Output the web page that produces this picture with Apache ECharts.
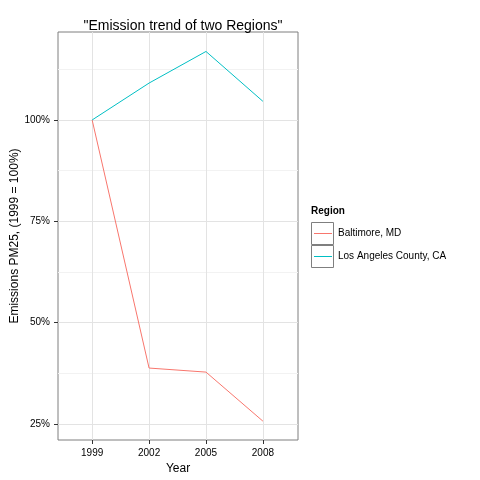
<!DOCTYPE html>
<html><head><meta charset="utf-8">
<script src="https://cdn.jsdelivr.net/npm/echarts@6/dist/echarts.min.js"></script>
<style>html,body{margin:0;background:#fff}#c{width:480px;height:480px}</style>
</head><body><div id="c"></div>
<script>
var years = [1999, 2002, 2005, 2008];
var baltimore = [100, 38.8, 37.8, 25.7];
var losAngeles = [100, 109.1, 116.9, 104.6];
var yMajor = [25, 50, 75, 100];
var yMinor = [37.5, 62.5, 87.5, 112.5];
var regions = ['Baltimore, MD', 'Los Angeles County, CA'];
var colors = ['#f8766d', '#00bfc4'];

var chart = echarts.init(document.getElementById('c'));
function pairs(vals) { return years.map(function (y, i) { return [y, vals[i]]; }); }
function hLines(vals, color) {
  return vals.map(function (v) { return { yAxis: v, lineStyle: { color: color, width: 1, type: 'solid' } }; });
}
var legendGraphics = [{ type: 'text', left: 311, top: 206, style: { text: 'Region', font: 'bold 10px Liberation Sans, Arial', fill: '#000' } }];
regions.forEach(function (r, i) {
  var y = 222 + i * 23;
  legendGraphics.push(
    { type: 'rect', shape: { x: 311.5, y: y + 0.5, width: 22, height: 22 }, style: { fill: '#fff', stroke: '#7f7f7f', lineWidth: 1 } },
    { type: 'line', shape: { x1: 314, y1: y + 11.5, x2: 332, y2: y + 11.5 }, style: { stroke: colors[i], lineWidth: 1 } },
    { type: 'text', left: 338, top: y + 6, style: { text: r, font: '10px Liberation Sans, Arial', fill: '#000' } }
  );
});
chart.setOption({
  animation: false,
  textStyle: { fontFamily: 'Liberation Sans, Arial, sans-serif' },
  title: { text: '"Emission trend of two Regions"', left: 178, top: 14, textAlign: 'center',
    textStyle: { fontSize: 14, fontWeight: 'normal', color: '#000' } },
  grid: { left: 58, right: 182, top: 32, bottom: 40, show: true, borderColor: '#7f7f7f', borderWidth: 1 },
  xAxis: { type: 'value', min: 1997.2, max: 2009.85, name: 'Year', nameLocation: 'middle', nameGap: 22,
    nameTextStyle: { fontSize: 12, color: '#000' },
    axisLine: { show: false }, splitLine: { show: false },
    axisTick: { show: true, customValues: years, length: 4, lineStyle: { color: '#333' } },
    axisLabel: { customValues: years, color: '#000', fontSize: 10, margin: 8, formatter: function (v) { return String(v); } } },
  yAxis: { type: 'value', min: 21.05, max: 121.7, name: 'Emissions PM25, (1999 = 100%)', nameLocation: 'middle',
    nameGap: 35, nameTextStyle: { fontSize: 12, color: '#000' },
    axisLine: { show: false }, splitLine: { show: false },
    axisTick: { show: true, customValues: yMajor, length: 4, lineStyle: { color: '#333' } },
    axisLabel: { customValues: yMajor, color: '#000', fontSize: 10, formatter: '{value}%', margin: 8 } },
  graphic: legendGraphics,
  series: [
    { type: 'line', name: 'grid', data: [], silent: true, z: 0,
      markLine: { symbol: 'none', silent: true, label: { show: false }, z: 0,
        data: hLines(yMinor, '#f2f2f2').concat(hLines(yMajor, '#e3e3e3')).concat(
          years.map(function (y) { return { xAxis: y, lineStyle: { color: '#e3e3e3', width: 1, type: 'solid' } }; })) } },
    { type: 'line', name: regions[0], data: pairs(baltimore), showSymbol: false, z: 5,
      lineStyle: { color: colors[0], width: 1 }, itemStyle: { color: colors[0] } },
    { type: 'line', name: regions[1], data: pairs(losAngeles), showSymbol: false, z: 5,
      lineStyle: { color: colors[1], width: 1 }, itemStyle: { color: colors[1] } }
  ]
});
</script></body></html>
